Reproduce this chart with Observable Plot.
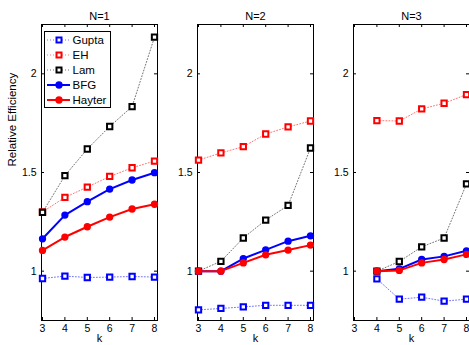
<!DOCTYPE html>
<html><head><meta charset="utf-8">
<script src="https://cdn.jsdelivr.net/npm/d3@7"></script>
<script src="https://cdn.jsdelivr.net/npm/@observablehq/plot@0.6"></script>
<style>
body{margin:0;overflow:hidden;background:#fff}
#chart{position:relative;width:469px;height:345px;overflow:hidden;background:#fff}
#chart svg{position:absolute;top:0}
</style>
</head><body><div id="chart"></div>
<script>
// ---- data ----
const panels = ["N=1", "N=2", "N=3"];
const seriesNames = ["Gupta", "EH", "Lam", "BFG", "Hayter"];
const kAll = [3, 4, 5, 6, 7, 8];
const kN3 = [4, 5, 6, 7, 8];
const xTicks = [3, 4, 5, 6, 7, 8];
const yTicks = [1, 1.5, 2];

const gupta1  = [0.963, 0.975, 0.968, 0.970, 0.973, 0.970];
const eh1     = [1.300, 1.374, 1.426, 1.480, 1.524, 1.558];
const lam1    = [1.298, 1.484, 1.619, 1.733, 1.834, 2.186];
const bfg1    = [1.164, 1.284, 1.352, 1.416, 1.462, 1.499];
const hayter1 = [1.105, 1.173, 1.225, 1.274, 1.315, 1.339];

const gupta2  = [0.804, 0.811, 0.819, 0.827, 0.827, 0.827];
const eh2     = [1.563, 1.599, 1.631, 1.695, 1.731, 1.761];
const lam2    = [1.000, 1.050, 1.168, 1.259, 1.333, 1.624];
const bfg2    = [1.000, 1.000, 1.064, 1.108, 1.152, 1.179];
const hayter2 = [1.000, 1.000, 1.042, 1.083, 1.107, 1.132];

const gupta3  = [0.961, 0.858, 0.868, 0.848, 0.858];
const eh3     = [1.763, 1.761, 1.822, 1.851, 1.895];
const lam3    = [1.000, 1.049, 1.123, 1.168, 1.442];
const bfg3    = [1.000, 1.012, 1.059, 1.075, 1.103];
const hayter3 = [1.000, 1.004, 1.042, 1.059, 1.085];

const panelData = [
  {ks: kAll, vals: [gupta1, eh1, lam1, bfg1, hayter1]},
  {ks: kAll, vals: [gupta2, eh2, lam2, bfg2, hayter2]},
  {ks: kN3,  vals: [gupta3, eh3, lam3, bfg3, hayter3]}
];

// ---- styles ----
const seriesStyle = {
  Gupta:  {color: "#0000ff", dotted: true},
  EH:     {color: "#ff0000", dotted: true},
  Lam:    {color: "#000000", dotted: true},
  BFG:    {color: "#0000ff", dotted: false},
  Hayter: {color: "#ff0000", dotted: false}
};
const FONT = "'Liberation Sans', Arial, Helvetica, sans-serif";
const svgLefts = [0, 156, 312];
const W = 160, H = 345, ML = 41, MR = 3, MT = 24, MB = 25;
const FW = W - ML - MR, FH = H - MT - MB;

const chart = document.getElementById("chart");

panels.forEach((title, pi) => {
  const pd = panelData[pi];
  const rows = [];
  seriesNames.forEach((s, si) => {
    pd.ks.forEach((k, i) => rows.push({series: s, k, value: pd.vals[si][i]}));
  });
  const seriesMarks = [];
  seriesNames.forEach(s => {
    const st = seriesStyle[s];
    const d = rows.filter(r => r.series === s);
    if (st.dotted) {
      seriesMarks.push(Plot.line(d, {x: "k", y: "value", stroke: st.color, strokeWidth: 1, strokeDasharray: "1,2", strokeOpacity: 0.55}));
      seriesMarks.push(Plot.dot(d, {x: "k", y: "value", symbol: "square", r: 3, stroke: st.color, strokeWidth: 2, fill: "white"}));
    } else {
      seriesMarks.push(Plot.line(d, {x: "k", y: "value", stroke: st.color, strokeWidth: 2}));
      seriesMarks.push(Plot.dot(d, {x: "k", y: "value", symbol: "circle", r: 2.9, stroke: st.color, strokeWidth: 1.5, fill: st.color}));
    }
  });
  const marks = [
    Plot.frame({stroke: "black", strokeWidth: 1}),
    Plot.tickY(yTicks, {y: d => d, insetRight: FW - 3, stroke: "black"}),
    Plot.tickY(yTicks, {y: d => d, insetLeft: FW - 3, stroke: "black"}),
    Plot.tickX(xTicks, {x: d => d, insetTop: FH - 3, stroke: "black"}),
    Plot.tickX(xTicks, {x: d => d, insetBottom: FH - 3, stroke: "black"}),
    Plot.axisX({ticks: xTicks, tickSize: 0, tickPadding: 4, label: null, tickFormat: d => String(d), fontSize: 10.5}),
    Plot.axisY({ticks: yTicks, tickSize: 0, tickPadding: 5, label: null, tickFormat: d => String(d), fontSize: 10.5}),
    ...seriesMarks,
    Plot.text([title], {frameAnchor: "top", dy: -12, fontSize: 11, text: d => d}),
    Plot.text(["k"], {frameAnchor: "bottom", dy: 21, fontSize: 11, text: d => d})
  ];
  if (pi === 0) {
    marks.push(Plot.text(["Relative Efficiency"], {frameAnchor: "left", dx: -29.5, dy: -6, rotate: -90, fontSize: 11.5, text: d => d}));
  }
  const svg = Plot.plot({
    width: W, height: H,
    marginLeft: ML, marginRight: MR, marginTop: MT, marginBottom: MB,
    x: {domain: [3, 8], insetLeft: 1, insetRight: 3},
    y: {domain: [0.75, 2.25]},
    style: {background: "transparent", fontFamily: FONT, color: "black", overflow: "visible"},
    marks
  });
  svg.style.left = svgLefts[pi] + "px";
  chart.appendChild(svg);
});

// ---- legend ----
const lg = d3.create("svg")
  .attr("width", 68).attr("height", 78)
  .style("position", "absolute").style("left", "44px").style("top", "31px")
  .style("font-family", FONT);
lg.append("rect").attr("x", 0.5).attr("y", 0.5).attr("width", 66).attr("height", 76)
  .attr("fill", "white").attr("stroke", "black");
seriesNames.forEach((s, i) => {
  const st = seriesStyle[s];
  const y = 9 + i * 15;
  lg.append("line").attr("x1", 3).attr("x2", 26).attr("y1", y).attr("y2", y)
    .attr("stroke", st.color).attr("stroke-width", st.dotted ? 1 : 2)
    .attr("stroke-opacity", st.dotted ? 0.55 : 1)
    .attr("stroke-dasharray", st.dotted ? "1,2" : null);
  if (st.dotted) {
    lg.append("rect").attr("x", 12.5).attr("y", y - 2.5).attr("width", 5).attr("height", 5)
      .attr("fill", "white").attr("stroke", st.color).attr("stroke-width", 2);
  } else {
    lg.append("circle").attr("cx", 15).attr("cy", y).attr("r", 2.9)
      .attr("fill", st.color).attr("stroke", st.color).attr("stroke-width", 1.5);
  }
  lg.append("text").attr("x", 28.5).attr("y", y).attr("dy", "0.36em")
    .attr("font-size", 11.5).attr("fill", "black").text(s);
});
chart.appendChild(lg.node());
</script></body></html>
